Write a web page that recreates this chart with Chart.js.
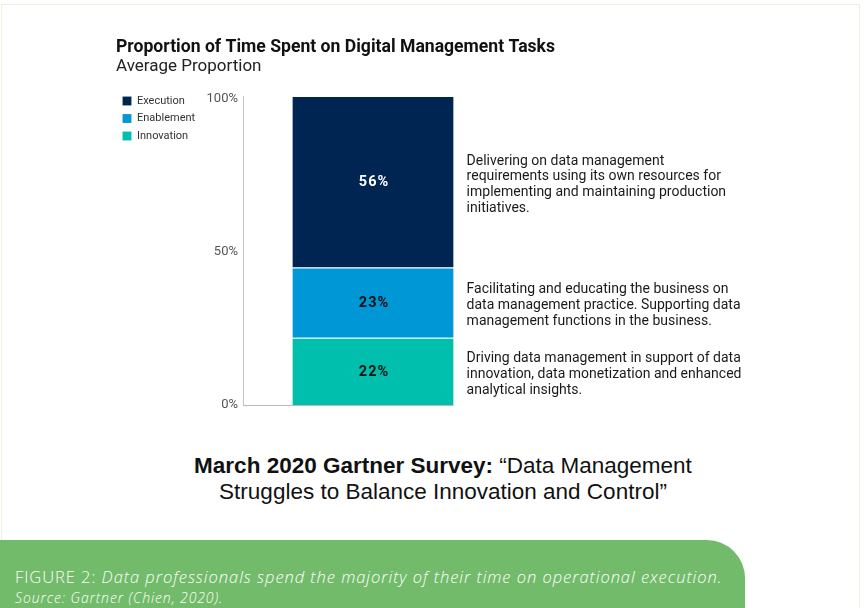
<!DOCTYPE html>
<html>
<head>
<meta charset="utf-8">
<script src="https://cdn.jsdelivr.net/npm/chart.js@4"></script>
<style>
  html, body { margin: 0; padding: 0; background: #ffffff; }
  body { width: 865px; height: 608px; position: relative; overflow: hidden; }
  .frame { position: absolute; left: 1px; top: 4px; width: 857px; height: 620px; border: 1px solid #eef1de; }
  .chart-box { position: absolute; left: 116px; top: 38px; width: 650px; height: 380px; }
  .survey { position: absolute; left: 0; top: 453px; width: 886px; text-align: center;
    font-family: "Liberation Sans", Arial, sans-serif; font-size: 22.5px; line-height: 26px; color: #111; }
  .survey b { font-weight: 700; }
  .caption { position: absolute; left: 0; top: 540px; width: 745px; height: 80px; background: #72bb6a;
    border-top-right-radius: 38px; color: #fff; font-family: "Open Sans", sans-serif; font-weight: 300; }
  .l1 { position: absolute; left: 15px; top: 25px; font-size: 16.5px; letter-spacing: 0.95px; white-space: nowrap; }
  .l1 i, .l2 { font-style: italic; }
  .l2 { position: absolute; left: 15px; top: 48px; font-size: 14px; letter-spacing: 0.9px; white-space: nowrap; }
</style>
</head>
<body>
<div class="frame"></div>
<div class="chart-box"><canvas id="myChart"></canvas></div>
<div class="survey"><b>March 2020 Gartner Survey:</b> “Data Management<br>Struggles to Balance Innovation and Control”</div>
<div class="caption">
  <div class="l1">FIGURE 2: <i>Data professionals spend the majority of their time on operational execution.</i></div>
  <div class="l2">Source: Gartner (Chien, 2020).</div>
</div>
<script>
// stack from bottom to top
var categories = ['Average Proportion'];
var series_names = ['Innovation', 'Enablement', 'Execution'];
var innovation = [22];
var enablement = [23];
var execution = [56];
var y_ticks = [0, 50, 100];
var notes_innovation = ['Driving data management in support of data', 'innovation, data monetization and enhanced', 'analytical insights.'];
var notes_enablement = ['Facilitating and educating the business on', 'data management practice. Supporting data', 'management functions in the business.'];
var notes_execution = ['Delivering on data management', 'requirements using its own resources for', 'implementing and maintaining production', 'initiatives.'];

var colors = ['#00c0ad', '#0097d6', '#002552'];
var label_colors = ['#111111', '#111111', '#ffffff'];
var notes = [notes_innovation, notes_enablement, notes_execution];

const sidePlugin = {
  id: 'sideNotes',
  afterDatasetsDraw(chart) {
    const ctx = chart.ctx;
    const area = chart.chartArea;
    ctx.save();
    var barRight = area.left;
    chart.data.datasets.forEach(function(ds, i) {
      const bar = chart.getDatasetMeta(i).data[0];
      const mid = (bar.y + bar.base) / 2;
      barRight = bar.x + bar.width / 2;
      // value in the segment
      ctx.font = 'bold 14.5px Roboto';
      ctx.letterSpacing = '1px';
      ctx.fillStyle = label_colors[i];
      ctx.textAlign = 'center';
      ctx.textBaseline = 'middle';
      ctx.fillText(ds.data[0] + '%', bar.x + 1, mid + 1);
      // description to the right
      ctx.letterSpacing = '0px';
      ctx.font = '14px Roboto';
      ctx.fillStyle = '#1a1a1a';
      ctx.textAlign = 'left';
      const lines = notes[i];
      const lh = 15.7;
      var y0 = mid + 3 - (lines.length - 1) * lh / 2;
      for (var k = 0; k < lines.length; k++) {
        ctx.fillText(lines[k], barRight + 13, y0 + k * lh);
      }
    });
    // base line under the bar
    ctx.strokeStyle = '#b9b9b9';
    ctx.lineWidth = 1;
    ctx.beginPath();
    ctx.moveTo(area.left, Math.round(area.bottom) + 0.5);
    ctx.lineTo(barRight, Math.round(area.bottom) + 0.5);
    ctx.stroke();
    ctx.restore();
  }
};

const ctx = document.getElementById('myChart');
const chart = new Chart(ctx, {
  type: 'bar',
  data: {
    labels: categories,
    datasets: [
      { label: series_names[0], data: innovation, backgroundColor: colors[0] },
      { label: series_names[1], data: enablement, backgroundColor: colors[1] },
      { label: series_names[2], data: execution, backgroundColor: colors[2] }
    ]
  },
  options: {
    animation: false,
    responsive: true,
    maintainAspectRatio: false,
    layout: { padding: 0 },
    datasets: {
      bar: { categoryPercentage: 1, barPercentage: 0.62, borderWidth: { top: 1 }, borderColor: 'rgba(255,255,255,0.6)', borderSkipped: 'bottom' }
    },
    scales: {
      x: { stacked: true, display: false },
      y: {
        stacked: true,
        min: 0,
        max: 101,
        afterBuildTicks: function(scale) { scale.ticks = y_ticks.map(function(v) { return { value: v }; }); },
        afterFit: function(scale) {
          const lg = scale.chart.legend;
          scale.width = 127 - (lg ? lg.width : 0);
        },
        grid: { display: false, tickLength: 0 },
        border: { display: true, color: '#c4c4c4', width: 1 },
        ticks: {
          padding: 5,
          color: '#555555',
          font: { family: 'Roboto', size: 13 },
          callback: function(v) { return v + '%'; }
        }
      },
      // empty right axis, keeps room for the notes
      notes: {
        position: 'right',
        display: true,
        grid: { display: false },
        border: { display: false },
        ticks: { display: false },
        afterFit: function(scale) { scale.width = 263; }
      }
    },
    plugins: {
      title: {
        display: true, align: 'start', text: 'Proportion of Time Spent on Digital Management Tasks',
        color: '#111', font: { family: 'Roboto', size: 17.6, weight: 'bold', lineHeight: 1.12 }, padding: { top: 0, bottom: 0 }
      },
      subtitle: {
        display: true, align: 'start', text: 'Average Proportion',
        color: '#222', font: { family: 'Roboto', size: 17, lineHeight: 1.05 }, padding: { top: 0, bottom: 20.5 }
      },
      legend: {
        position: 'left', align: 'start', reverse: true,
        title: { display: true, text: '', font: { size: 10 }, padding: { top: 39, bottom: 0 } },
        labels: { boxWidth: 9, boxHeight: 9, padding: 6.5, color: '#333', font: { family: 'Roboto', size: 11 } }
      },
      tooltip: { enabled: false }
    }
  },
  plugins: [sidePlugin]
});
</script>
</body>
</html>
